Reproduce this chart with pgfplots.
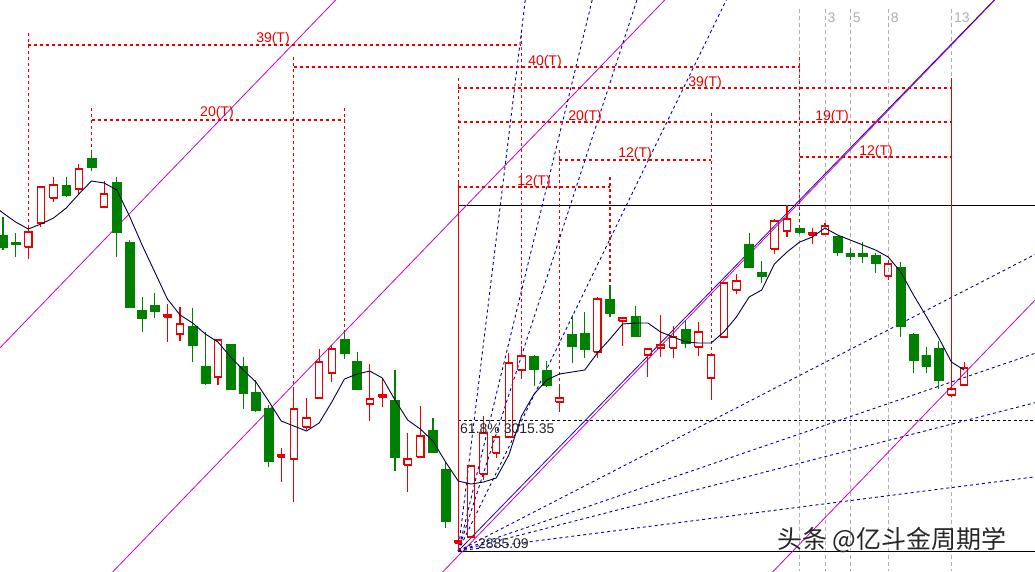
\documentclass[border=0pt]{standalone}
\usepackage{pgfplots}
\pgfplotsset{compat=1.18}
\usepackage{fontspec}
\setmainfont{Liberation Sans}
\newfontfamily\cjk{Noto Sans CJK SC}
\definecolor{cred}{RGB}{235,0,0}
\definecolor{cgreen}{RGB}{0,128,0}
\definecolor{cblue}{RGB}{0,0,165}
\definecolor{cmag}{RGB}{205,0,205}
\definecolor{cgray}{RGB}{175,175,175}
\definecolor{cma}{RGB}{0,0,60}
\tikzset{lbl/.style={font=\fontsize{14}{16}\selectfont, inner sep=0pt}}
\pgfplotsset{
  upc/.style={draw=cred, line width=1.1pt, mark=none, forget plot, line join=miter},
  dnw/.style={draw=cgreen, line width=1.1pt, mark=none, forget plot},
  dnb/.style={draw=cgreen, fill=cgreen, line width=0.4pt, mark=none, forget plot},
  rdash/.style={draw=cred, color=cred, line width=1.2pt, dash pattern=on 3pt off 3pt, mark=none, forget plot},
  rsolid/.style={draw=cred, line width=1pt, mark=none, forget plot},
  bdash/.style={draw=cblue, line width=0.9pt, dash pattern=on 3pt off 3pt, mark=none, forget plot},
  gdash/.style={draw=cgray, line width=0.8pt, dash pattern=on 4pt off 3pt, mark=none, forget plot},
  mag/.style={draw=cmag, line width=0.8pt, mark=none, forget plot},
}
% up (red, hollow) candle: index, open, high, low, close
\newcommand{\up}[5]{%
  \pgfmathsetmacro\xl{#1-0.29}\pgfmathsetmacro\xr{#1+0.29}%
  \edef\tmp{%
    \noexpand\addplot[upc] coordinates {(#1,#3)(#1,#5)};
    \noexpand\addplot[upc] coordinates {(#1,#2)(#1,#4)};
    \noexpand\addplot[upc] coordinates {(\xl,#2)(\xr,#2)(\xr,#5)(\xl,#5)(\xl,#2)};
  }\tmp}
% down (green, filled) candle: index, open, high, low, close
\newcommand{\dn}[5]{%
  \pgfmathsetmacro\xl{#1-0.35}\pgfmathsetmacro\xr{#1+0.35}%
  \edef\tmp{%
    \noexpand\addplot[dnw] coordinates {(#1,#3)(#1,#4)};
    \noexpand\addplot[dnb] coordinates {(\xl,#2)(\xr,#2)(\xr,#5)(\xl,#5)(\xl,#2)};
  }\tmp}
\begin{document}
\begin{tikzpicture}
\begin{axis}[
  width=1035pt, height=571pt, scale only axis,
  xmin=0.763, xmax=82.61, ymin=2865, ymax=3436,
  hide axis, clip=true,
]
% Fibonacci time lines (gray)
\addplot[gdash] coordinates {(64,3427)(64,2865)};
\addplot[gdash] coordinates {(66,3427)(66,2865)};
\addplot[gdash] coordinates {(68,3427)(68,2865)};
\addplot[gdash] coordinates {(71,3427)(71,2865)};
\addplot[gdash] coordinates {(76,3427)(76,2865)};
% black horizontal levels
\addplot[black, line width=1pt, forget plot] coordinates {(37,3231)(83,3231)};
\addplot[black, line width=1pt, forget plot] coordinates {(37,2884.5)(83,2884.5)};
\addplot[black, line width=0.9pt, dash pattern=on 3pt off 2.5pt, forget plot] coordinates {(37,3015.35)(83,3015.35)};
% magenta parallel channel lines
\addplot[mag] coordinates {(-18.3,2838.5)(27.7,3441.1)};
\addplot[mag] coordinates {(7.72,2838.5)(53.72,3441.1)};
\addplot[mag] coordinates {(33.82,2838.5)(79.82,3441.1)};
\addplot[mag] coordinates {(59.91,2838.5)(105.91,3441.1)};
% Gann fan from the low
\addplot[bdash] coordinates {(37,2885.09)(42.34,3440)};
\addplot[bdash] coordinates {(37,2885.09)(47.67,3440)};
\addplot[bdash] coordinates {(37,2885.09)(51.23,3440)};
\addplot[bdash] coordinates {(37,2885.09)(58.35,3440)};
\addplot[draw=cblue!80!cmag, line width=0.8pt, forget plot] coordinates {(37,2885.09)(79.7,3440)};
\addplot[bdash] coordinates {(37,2885.09)(83,3184.1)};
\addplot[bdash] coordinates {(37,2885.09)(83,3084.4)};
\addplot[bdash] coordinates {(37,2885.09)(83,3034.6)};
\addplot[bdash] coordinates {(37,2885.09)(83,2959.8)};
% red time brackets
\addplot[rdash] coordinates {(3,3391)(42,3391)};
\addplot[rdash] coordinates {(3,3403)(3,3208)};
\addplot[rdash] coordinates {(42,3401)(42,3090)};
\addplot[rdash] coordinates {(8,3316)(28,3316)};
\addplot[rdash] coordinates {(8,3328)(8,3285)};
\addplot[rdash] coordinates {(28,3328)(28,3104)};
\addplot[rdash] coordinates {(24,3369)(64,3369)};
\addplot[rdash] coordinates {(24,3379)(24,3046)};
\addplot[rdash] coordinates {(64,3379)(64,3210)};
\addplot[rdash] coordinates {(37,3348)(76,3348)};
\addplot[rdash] coordinates {(37,3358)(37,3253)};
\addplot[rsolid] coordinates {(37,3253)(37,2885.09)};
\addplot[rsolid] coordinates {(76,3358)(76,3052)};
\addplot[rdash] coordinates {(37,3314)(76,3314)};
\addplot[rdash] coordinates {(57,3323)(57,3081)};
\addplot[rdash] coordinates {(45,3276)(57,3276)};
\addplot[rdash] coordinates {(45,3286)(45,3049)};
\addplot[rdash] coordinates {(37,3249)(49,3249)};
\addplot[rdash] coordinates {(49,3259)(49,3150)};
\addplot[rdash] coordinates {(64,3279)(76,3279)};
% candles
\dn{1}{3201}{3219}{3186}{3189}
\dn{2}{3194}{3203}{3179}{3192}
\up{3}{3189}{3208}{3177}{3204}
\up{4}{3213}{3250}{3209}{3249}
\up{5}{3238}{3259}{3234}{3251}
\dn{6}{3251}{3259}{3239}{3241}
\up{7}{3247}{3272}{3242}{3267}
\dn{8}{3278}{3285}{3265}{3269}
\up{9}{3229}{3255}{3228}{3242}
\dn{10}{3254}{3259}{3179}{3204}
\dn{11}{3194}{3196}{3129}{3129}
\dn{12}{3126}{3139}{3104}{3118}
\dn{13}{3131}{3143}{3118}{3125}
\up{14}{3119}{3132}{3094}{3121}
\up{15}{3102}{3129}{3095}{3112}
\dn{16}{3110}{3128}{3074}{3091}
\dn{17}{3070}{3104}{3051}{3053}
\up{18}{3059}{3097}{3051}{3096}
\dn{19}{3092}{3092}{3047}{3047}
\dn{20}{3070}{3079}{3027}{3043}
\dn{21}{3044}{3056}{3024}{3026}
\dn{22}{3028}{3031}{2969}{2975}
\up{23}{2979}{2988}{2954}{2981}
\up{24}{2977}{3046}{2934}{3027}
\up{25}{3009}{3038}{3006}{3018}
\up{26}{3038}{3087}{3038}{3074}
\up{27}{3063}{3091}{3054}{3087}
\dn{28}{3097}{3104}{3077}{3083}
\dn{29}{3075}{3084}{3047}{3047}
\up{30}{3032}{3072}{3015}{3037}
\up{31}{3039}{3058}{3029}{3041}
\dn{32}{3036}{3066}{2965}{2979}
\up{33}{2971}{3003}{2944}{2977}
\up{34}{2979}{3030}{2979}{3000}
\dn{35}{3006}{3018}{2983}{2984}
\dn{36}{2967}{2974}{2908}{2915}
\up{37}{2893}{2899}{2885.09}{2895}
\up{38}{2899}{2970}{2897}{2970}
\up{39}{2962}{3020}{2956}{3003}
\up{40}{2983}{2999}{2978}{2999}
\up{41}{2999}{3083}{2999}{3073}
\up{42}{3066}{3090}{3057}{3080}
\dn{43}{3080}{3081}{3050}{3067}
\dn{44}{3066}{3075}{3049}{3051}
\up{45}{3034}{3049}{3024}{3038}
\dn{46}{3102}{3121}{3073}{3090}
\dn{47}{3103}{3124}{3078}{3087}
\up{48}{3084}{3139}{3078}{3137}
\dn{49}{3137}{3150}{3119}{3123}
\up{50}{3115}{3118}{3090}{3118}
\dn{51}{3120}{3130}{3099}{3100}
\up{52}{3081}{3088}{3059}{3087}
\up{53}{3088}{3121}{3079}{3091}
\up{54}{3088}{3110}{3078}{3099}
\dn{55}{3107}{3116}{3088}{3093}
\up{56}{3089}{3114}{3080}{3104}
\up{57}{3058}{3081}{3036}{3081}
\up{58}{3099}{3153}{3099}{3153}
\up{59}{3146}{3162}{3142}{3155}
\dn{60}{3192}{3203}{3169}{3169}
\dn{61}{3164}{3175}{3153}{3160}
\up{62}{3187}{3217}{3182}{3215}
\up{63}{3205}{3231}{3199}{3217}
\dn{64}{3208}{3210}{3202}{3204}
\up{65}{3201}{3208}{3192}{3203}
\up{66}{3202}{3213}{3202}{3210}
\dn{67}{3200}{3200}{3180}{3184}
\dn{68}{3183}{3188}{3176}{3180}
\dn{69}{3183}{3194}{3173}{3180}
\dn{70}{3181}{3183}{3163}{3173}
\up{71}{3160}{3176}{3156}{3172}
\dn{72}{3169}{3174}{3099}{3110}
\dn{73}{3102}{3103}{3063}{3076}
\dn{74}{3081}{3089}{3063}{3070}
\dn{75}{3088}{3095}{3047}{3056}
\up{76}{3041}{3052}{3039}{3047}
\up{77}{3051}{3074}{3050}{3068}
% moving average
\addplot[draw=cma, line width=0.9pt, mark=none, forget plot] coordinates {
(0,3233)(1,3223)(2,3214)(3,3207)(4,3212)(5,3218)(6,3228)(7,3242)(8,3255)(9,3253)
(10,3246)(11,3220)(12,3191)(13,3164)(14,3137)(15,3121)(16,3113)(17,3102)(18,3094)(19,3079)
(20,3066)(21,3054)(22,3035)(23,3015)(24,3010)(25,3005)(26,3013)(27,3034)(28,3057)(29,3062)
(30,3065)(31,3058)(32,3036)(33,3016)(34,3007)(35,2995)(36,2974)(37,2955)(38,2952)(39,2954)
(40,2958)(41,2981)(42,3020)(43,3042)(44,3056)(45,3062)(46,3064)(47,3066)(48,3083)(49,3097)
(50,3112)(51,3113)(52,3113)(53,3104)(54,3099)(55,3094)(56,3093)(57,3093)(58,3104)(59,3119)
(60,3139)(61,3146)(62,3172)(63,3184)(64,3194)(65,3199)(66,3208)(67,3201)(68,3196)(69,3191)
(70,3186)(71,3179)(72,3164)(73,3141)(74,3120)(75,3098)(76,3074)(77,3066)};
% labels
\node[lbl, text=cred] at (axis cs:22.35,3397) {39(T)};
\node[lbl, text=cred] at (axis cs:17.92,3323) {20(T)};
\node[lbl, text=cred] at (axis cs:43.86,3374) {40(T)};
\node[lbl, text=cred] at (axis cs:56.52,3353) {39(T)};
\node[lbl, text=cred] at (axis cs:47.03,3319) {20(T)};
\node[lbl, text=cred] at (axis cs:66.56,3319) {19(T)};
\node[lbl, text=cred] at (axis cs:50.98,3282) {12(T)};
\node[lbl, text=cred] at (axis cs:42.99,3254) {12(T)};
\node[lbl, text=cred] at (axis cs:70.04,3284) {12(T)};
\node[lbl, text=cgray, anchor=west] at (axis cs:66.2,3418) {3};
\node[lbl, text=cgray, anchor=west] at (axis cs:68.2,3418) {5};
\node[lbl, text=cgray, anchor=west] at (axis cs:71.2,3418) {8};
\node[lbl, text=cgray, anchor=west] at (axis cs:76.2,3418) {13};
\node[lbl, text=black!85, anchor=west] at (axis cs:37.14,3007) {61.8\%\ 3015.35};
\node[lbl, text=black!85, anchor=west] at (axis cs:38.56,2892) {2885.09};
\node[inner sep=0pt, text=black!85, anchor=west, font=\cjk\fontsize{25}{28}\selectfont] at (axis cs:62.2,2896) {头条 @亿斗金周期学};
\end{axis}
\pgfresetboundingbox
\path[use as bounding box] (current axis.south west) rectangle (current axis.north east);
\end{tikzpicture}
\end{document}
